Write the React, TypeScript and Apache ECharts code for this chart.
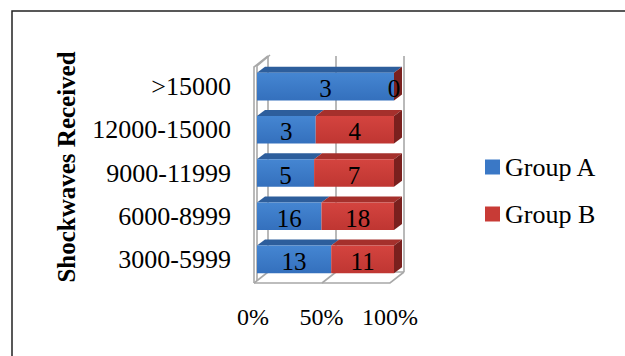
import React, { useEffect, useRef } from "react";
import * as echarts from "echarts";

const categories = ["3000-5999", "6000-8999", "9000-11999", "12000-15000", ">15000"];
const groupA = [13, 16, 5, 3, 3];
const groupB = [11, 18, 7, 4, 0];
const xTicks = [0, 50, 100];
const seriesNames = ["Group A", "Group B"];
const axisTitle = "Shockwaves Received";

const FONT = "'Liberation Serif', 'Times New Roman', serif";

const pctA = groupA.map((a, i) => (a + groupB[i] === 0 ? 0 : (a / (a + groupB[i])) * 100));

const blueFront = () =>
  new echarts.graphic.LinearGradient(0, 0, 0, 1, [
    { offset: 0, color: "#4586D2" },
    { offset: 1, color: "#3470BD" },
  ]);
const redFront = () =>
  new echarts.graphic.LinearGradient(0, 0, 0, 1, [
    { offset: 0, color: "#D4443F" },
    { offset: 1, color: "#BF3632" },
  ]);

function makeBarRender(isLast: boolean, front: () => any, top: string, side: string) {
  return (params: any, api: any) => {
    const start = api.value(0);
    const end = api.value(1);
    const cat = api.value(2);
    const val = api.value(3);
    const p0 = api.coord([start, cat]);
    const p1 = api.coord([end, cat]);
    const band = api.size([0, 1])[1];
    const h = band * 0.64;
    const x = p0[0];
    const y = p0[1] - h / 2;
    const w = p1[0] - p0[0];
    const dx = 8;
    const dy = -6;
    const children: any[] = [
      {
        type: "polygon",
        shape: { points: [[x, y], [x + dx, y + dy], [x + w + dx, y + dy], [x + w, y]] },
        style: { fill: top },
      },
      { type: "rect", shape: { x, y, width: w, height: h }, style: { fill: front() } },
    ];
    if (isLast) {
      children.push({
        type: "polygon",
        shape: { points: [[x + w, y], [x + w + dx, y + dy], [x + w + dx, y + h + dy], [x + w, y + h]] },
        style: { fill: side },
      });
    }
    children.push({
      type: "text",
      z2: 10,
      style: {
        text: String(val),
        x: x + w / 2,
        y: p0[1] + 2,
        align: "center",
        verticalAlign: "middle",
        fontSize: 25,
        fontFamily: FONT,
        fill: "#000",
      },
    });
    return { type: "group", children };
  };
}

function frameRender(params: any, api: any) {
  const band = api.size([0, 1])[1];
  const fBottom = api.coord([0, 0])[1] + band / 2 + 2;
  const fTop = api.coord([0, categories.length - 1])[1] - band / 2 + 2;
  const x0 = api.coord([0, 0])[0] - 3;
  const x100 = api.coord([100, 0])[0] - 4;
  const x50 = (x0 + x100) / 2;
  const dx = 14;
  const dy = -11;
  const st = { stroke: "#A8A8A8", lineWidth: 1.6, fill: "none" };
  const line = (pts: number[][]) => ({ type: "polyline", shape: { points: pts }, style: st });
  return {
    type: "group",
    children: [
      line([[x0 + dx, fTop + dy], [x0 + dx, fBottom + dy]]),
      line([[x50 + dx, fTop + dy], [x50 + dx, fBottom + dy]]),
      line([[x100 + dx, fTop + dy], [x100 + dx, fBottom + dy]]),
      line([[x0 + dx, fBottom + dy], [x100 + dx, fBottom + dy]]),
      line([[x0, fBottom], [x0, fTop], [x0 + dx, fTop + dy]]),
      line([[x0 + 3, fBottom - 2], [x0 + 3, fTop - 1], [x0 + dx + 2, fTop + dy - 1]]),
      line([[x0, fBottom], [x100, fBottom], [x100 + dx, fBottom + dy]]),
      line([[x0, fBottom], [x0 + dx, fBottom + dy]]),
      line([[x50, fBottom], [x50 + dx, fBottom + dy]]),
    ],
  };
}

export default function App() {
  const ref = useRef<HTMLDivElement>(null);
  useEffect(() => {
    if (!ref.current) return;
    const chart = echarts.init(ref.current, undefined, { renderer: "svg" });
    const dataA = categories.map((c, i) => [0, pctA[i], i, groupA[i]]);
    const dataB = categories.map((c, i) => [pctA[i], 100, i, groupB[i]]);
    chart.setOption({
      animation: false,
      backgroundColor: "#fff",
      grid: { left: 257, right: 231, top: 65, bottom: 75 },
      xAxis: {
        type: "value",
        min: xTicks[0],
        max: xTicks[xTicks.length - 1],
        interval: xTicks[1] - xTicks[0],
        axisLine: { show: false },
        axisTick: { show: false },
        splitLine: { show: false },
        axisLabel: {
          formatter: "{value}%",
          margin: 24,
          fontSize: 24,
          fontFamily: FONT,
          color: "#000",
          padding: [0, 8, 0, 0],
        },
      },
      yAxis: {
        type: "category",
        data: categories,
        axisLine: { show: false },
        axisTick: { show: false },
        splitLine: { show: false },
        axisLabel: {
          margin: 26,
          fontSize: 26,
          fontFamily: FONT,
          color: "#000",
          padding: [7, 0, 0, 0],
        },
      },
      legend: {
        orient: "vertical",
        left: 480,
        top: 149,
        itemWidth: 15,
        itemHeight: 15,
        itemGap: 21,
        icon: "rect",
        data: seriesNames,
        textStyle: { fontSize: 26, fontFamily: FONT, color: "#000" },
      },
      graphic: [
        {
          type: "rect",
          shape: { x: 12, y: 11, width: 700, height: 400 },
          style: { fill: "none", stroke: "#222", lineWidth: 1.5 },
          silent: true,
        },
        {
          type: "text",
          x: 66,
          y: 167,
          rotation: Math.PI / 2,
          style: {
            text: axisTitle,
            fontSize: 25,
            fontWeight: "bold",
            fontFamily: FONT,
            fill: "#000",
            align: "center",
            verticalAlign: "middle",
          },
        },
      ],
      series: [
        {
          type: "custom",
          name: "frame",
          renderItem: frameRender,
          data: [[0, 0]],
          encode: { x: 0, y: 1 },
          silent: true,
          z: 1,
        },
        {
          type: "custom",
          name: seriesNames[0],
          renderItem: makeBarRender(false, blueFront, "#2D5E9C", "#24497A"),
          data: dataA,
          encode: { x: [0, 1], y: 2 },
          itemStyle: { color: "#3A78C6" },
          z: 2,
        },
        {
          type: "custom",
          name: seriesNames[1],
          renderItem: makeBarRender(true, redFront, "#A5302C", "#7A201E"),
          data: dataB,
          encode: { x: [0, 1], y: 2 },
          itemStyle: { color: "#C83B36" },
          z: 3,
        },
      ],
    });
    return () => chart.dispose();
  }, []);
  return (
    <div
      ref={ref}
      style={{ position: "fixed", left: 0, top: 0, width: 625, height: 356 }}
    />
  );
}
